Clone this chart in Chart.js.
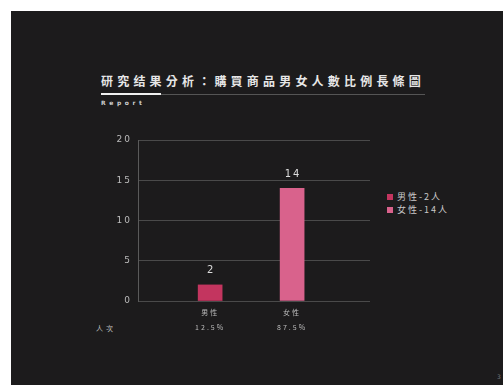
<!DOCTYPE html>
<html>
<head>
<meta charset="utf-8">
<script src="https://cdn.jsdelivr.net/npm/chart.js@4"></script>
<style>
  html,body{margin:0;padding:0;background:#fff;}
  #page{position:relative;width:503px;height:385px;overflow:hidden;background:#fff;}
  #dark{position:absolute;left:11px;top:11px;right:0;bottom:0;background:#1c1b1c;}
  #title{position:absolute;left:101px;top:73px;font-family:"Noto Sans CJK TC","Noto Sans CJK SC",sans-serif;font-weight:700;font-size:12px;line-height:16px;letter-spacing:4.2px;color:#e6e6e6;white-space:nowrap;}
  #lineGray{position:absolute;left:161px;top:94px;width:264px;height:1px;background:#555;}
  #lineWhite{position:absolute;left:101px;top:93px;width:60px;height:2px;background:#f0f0f0;}
  #report{position:absolute;left:101px;top:99px;font-family:"DejaVu Sans",sans-serif;font-weight:700;font-size:6px;line-height:8px;letter-spacing:3.6px;color:#cfcfcf;}
  #rowLabel{position:absolute;left:96px;top:323px;font-family:"Noto Sans CJK TC",sans-serif;font-size:7px;line-height:10px;letter-spacing:3px;color:#bbb;}
  #legend{position:absolute;left:387px;top:190px;font-family:"Noto Sans CJK TC",sans-serif;font-size:9px;letter-spacing:2px;color:#c8c8c8;}
  .li{display:flex;align-items:center;height:13px;}
  .sw{width:6px;height:6px;margin-right:4px;}
  #pnum{position:absolute;left:497px;top:373px;font-family:"DejaVu Sans",sans-serif;font-size:6px;color:#777;}
  canvas{position:absolute;left:0;top:0;}
</style>
</head>
<body>
<div id="page">
  <div id="dark"></div>
  <div id="title">研究结果分析：購買商品男女人數比例長條圖</div>
  <div id="lineGray"></div>
  <div id="lineWhite"></div>
  <div id="report">Report</div>
  <div id="rowLabel">人次</div>
  <div id="legend"></div>
  <div id="pnum">3</div>
  <canvas id="c" width="503" height="385"></canvas>
</div>
<script>
const categories = ['男性', '女性'];
const counts = [2, 14];
const percents = ['12.5%', '87.5%'];
const legendLabels = ['男性-2人', '女性-14人'];
const yTicks = [0, 5, 10, 15, 20];
const colors = ['#c3355f', '#d9628c'];

// legend (HTML)
const lg = document.getElementById('legend');
legendLabels.forEach((t, i) => {
  const d = document.createElement('div');
  d.className = 'li';
  d.innerHTML = '<span class="sw" style="background:' + colors[i] + '"></span><span>' + t + '</span>';
  lg.appendChild(d);
});

const letterPlugin = {
  id: 'letter',
  beforeDraw(chart) { chart.ctx.letterSpacing = '2px'; }
};
const valuePlugin = {
  id: 'vals',
  afterDatasetsDraw(chart) {
    const ctx = chart.ctx;
    ctx.save();
    ctx.letterSpacing = '2px';
    ctx.font = '10px "DejaVu Sans", sans-serif';
    ctx.fillStyle = '#dddddd';
    ctx.textAlign = 'center';
    ctx.textBaseline = 'bottom';
    chart.data.datasets.forEach((ds, i) => {
      const el = chart.getDatasetMeta(i).data[0];
      ctx.fillText(String(ds.data[0].y), el.x + 1, el.y - 9);
    });
    ctx.restore();
  }
};

new Chart(document.getElementById('c'), {
  type: 'bar',
  data: {
    datasets: categories.map((c, i) => ({
      label: legendLabels[i],
      data: [{ x: i, y: counts[i] }],
      backgroundColor: colors[i],
      borderColor: colors[i],
      borderWidth: 0,
      barThickness: 24,
      grouped: false
    }))
  },
  options: {
    responsive: false,
    animation: false,
    events: [],
    layout: { padding: { left: 98, top: 140, right: 133, bottom: 44 } },
    plugins: { legend: { display: false }, tooltip: { enabled: false } },
    scales: {
      x: {
        type: 'linear',
        offset: false,
        min: -0.88,
        max: 1.95,
        afterBuildTicks(scale) { scale.ticks = categories.map((c, i) => ({ value: i })); },
        afterFit(scale) { scale.height = 40; },
        grid: { display: false, drawTicks: false, offset: false },
        border: { display: false },
        ticks: {
          padding: 4,
          color: '#bbbbbb',
          font: { family: '"Noto Sans CJK TC", sans-serif', size: 7, lineHeight: 2.1 },
          callback: (v, i) => [categories[i], percents[i]]
        }
      },
      y: {
        min: 0,
        max: 20,
        afterBuildTicks(scale) { scale.ticks = yTicks.map(v => ({ value: v })); },
        afterFit(scale) { scale.width = 40; },
        grid: { color: '#4a4a4a', lineWidth: 1, drawTicks: false },
        border: { display: true, color: '#5a5a5a', width: 1 },
        ticks: {
          padding: 6,
          color: '#bbbbbb',
          font: { family: '"DejaVu Sans", sans-serif', size: 9 }
        }
      }
    }
  },
  plugins: [letterPlugin, valuePlugin]
});
</script>
</body>
</html>
